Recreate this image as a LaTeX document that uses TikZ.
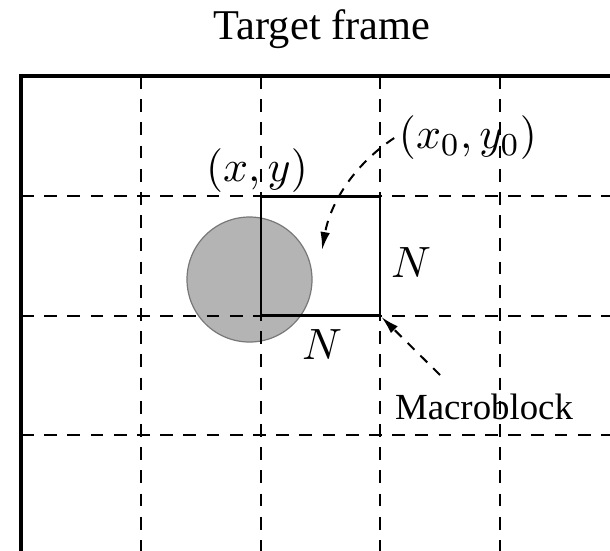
\documentclass[tikz,border=0pt]{standalone}
\usepackage{fontspec}
\setmainfont{Liberation Serif}
\usepackage{tikz}
\usetikzlibrary{arrows.meta,positioning,calc}
\definecolor{blobgray}{RGB}{180,180,180}
\definecolor{blobedge}{RGB}{120,120,120}

\begin{document}
\begin{tikzpicture}[x=0.25pt,y=-0.25pt,
  every node/.style={inner sep=1pt},
  gridline/.style={line width=0.62pt,dash pattern=on 3.2pt off 2.6pt},
  pointer/.style={-{Latex[length=4.5pt,width=2.4pt]},line width=0.5pt,dash pattern=on 2.4pt off 2.1pt},
  mathlbl/.style={font=\fontsize{11}{13}\selectfont}]
\useasboundingbox (0,0) rectangle (610,550);
\node[font=\fontsize{10.6}{12}\selectfont] (title) at (322,29) {Target frame};
\begin{scope}
\clip (0,0) rectangle (610,550);
\fill[blobgray,draw=blobedge,line width=0.3pt] (249.5,279.5) circle (62.5);
\foreach \x in {141,261,380,500}
  {\draw[gridline] (\x,76)--(\x,560);}
\foreach \y in {196,316,435}
  {\draw[gridline] (21,\y)--(620,\y);}
\draw[line width=0.8pt] (620,76)--(21,76)--(21,560);
\end{scope}
\node[draw,line width=0.7pt,minimum size=29.75pt,inner sep=0pt] (mb) at (320.5,256) {};
\node[mathlbl] (xy) at (257,171) {$(x,y)$};
\node[mathlbl] (x0y0) at (468,138) {$(x_0,y_0)$};
\node[mathlbl] (nr) at (411,263) {$N$};
\node[mathlbl] (nb) at (322,345) {$N$};
\node[font=\fontsize{9.2}{11}\selectfont] (mblbl) at (484,407) {Macroblock};
\coordinate (tip) at (322,250);
\coordinate (mbtail) at (440,375);
\draw[pointer] (x0y0.west) .. controls (352,166) and (330,205) .. (tip);
\draw[pointer] (mbtail) -- (mb.south east);
\end{tikzpicture}
\end{document}
